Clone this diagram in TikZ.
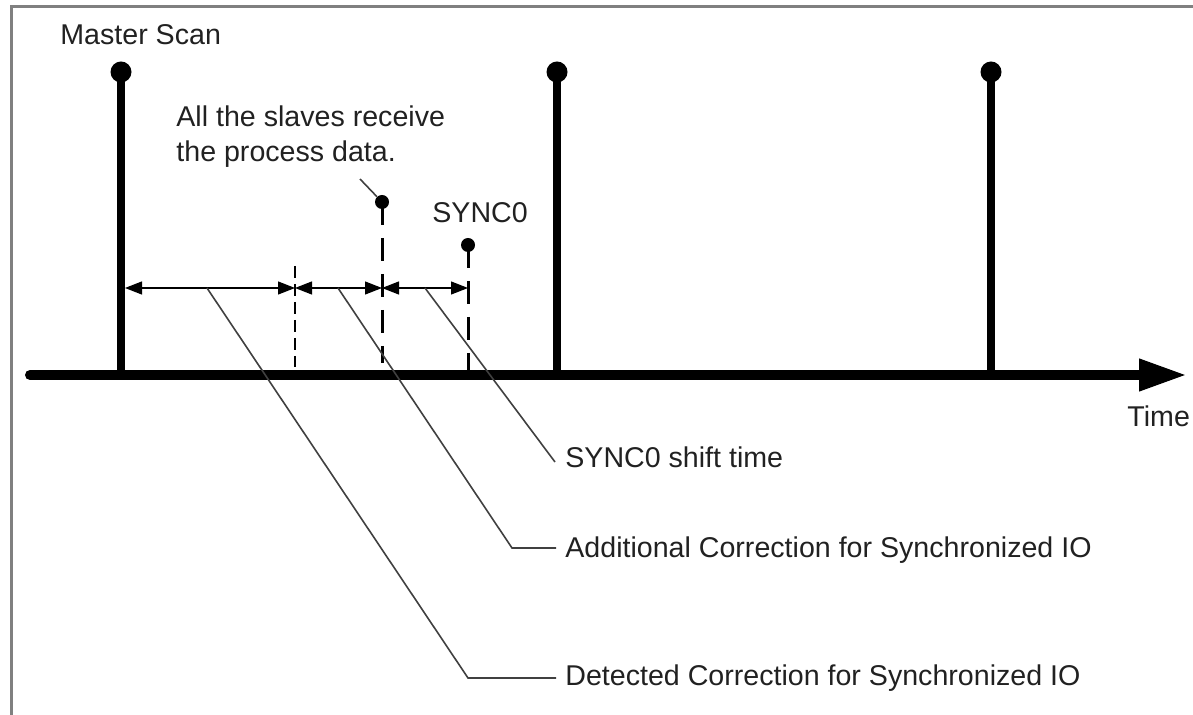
\documentclass[tikz,border=0pt]{standalone}
\usepackage{fontspec}
\setmainfont{Liberation Sans}
\usetikzlibrary{arrows.meta}
\begin{document}
\begin{tikzpicture}[x=0.5pt,y=-0.5pt,
  txt/.style={inner sep=0pt, font=\fontsize{14.3}{17.5}\selectfont, text=black!87},
  pulse/.style={line width=3.8pt},
  bigdot/.style={circle, fill=black, inner sep=0pt, minimum size=10.5pt},
  smalldot/.style={circle, fill=black, inner sep=0pt, minimum size=7pt},
  syncdash/.style={line width=1.5pt, dash pattern=on 11.5pt off 6.5pt},
  thindash/.style={line width=1pt, dash pattern=on 6pt off 3pt},
  dimline/.style={line width=0.6pt, {Triangle[length=8.5pt,width=6.5pt]}-{Triangle[length=8.5pt,width=6.5pt]}},
  leader/.style={line width=0.8pt, draw=black!75},
  frame/.style={line width=1.5pt, draw=black!50},
]
\useasboundingbox (0,0) rectangle (1193,715);
% frame (top and left edges visible)
\coordinate (f0) at (11.5,6.5);
\coordinate (f1) at (1200,6.5);
\coordinate (f2) at (11.5,720);
\draw[frame] (f1) -- (f0) -- (f2);

% time axis
\coordinate (a0) at (30,375);
\coordinate (a1) at (1187,375);
\draw[line width=5pt, line cap=round, -{Triangle[length=24pt,width=15pt]}] (a0) -- (a1);
\node[txt, anchor=base west] (time) at (1127,427) {Time};

% master scan pulses
\node[txt, anchor=base west] (ms) at (60,45) {Master Scan};
\node[bigdot] (m1) at (121,72) {};
\node[bigdot] (m2) at (557,72) {};
\node[bigdot] (m3) at (991,72) {};
\draw[pulse] (m1.center) -- (m1.center |- a0);
\draw[pulse] (m2.center) -- (m2.center |- a0);
\draw[pulse] (m3.center) -- (m3.center |- a0);

% slaves receive marker
\node[txt, anchor=north west, align=left] (slv) at (176,105) {All the slaves receive\\the process data.};
\node[smalldot] (s1) at (382,202) {};
\coordinate (s1b) at (382,363);
\draw[syncdash] (s1.center) -- (s1b);
\coordinate (ls) at (360,179);
\draw[leader] (ls) -- (s1);

% SYNC0 marker
\node[txt, anchor=base west] (sync) at (432,223) {SYNC0};
\node[smalldot] (s2) at (468,245) {};
\draw[syncdash] (s2.center) -- (s2.center |- a0);

% thin dashed separator
\coordinate (v1t) at (295,266);
\coordinate (v1b) at (295,367);
\draw[thindash] (v1t) -- (v1b);

% dimension arrows
\coordinate (d0) at (125,288);
\coordinate (d1) at (295,288);
\coordinate (d2) at (382,288);
\coordinate (d3) at (468,288);
\draw[dimline] (d0) -- (d1);
\draw[dimline] (d1) -- (d2);
\draw[dimline] (d2) -- (d3);

% leaders and labels
\node[txt, anchor=base west] (t1) at (565,685) {Detected Correction for Synchronized IO};
\node[txt, anchor=base west] (t2) at (565,557) {Additional Correction for Synchronized IO};
\node[txt, anchor=base west] (t3) at (565,468) {SYNC0 shift time};
\coordinate (l1a) at (207,288);
\coordinate (l1b) at (468,678);
\coordinate (l1c) at (556,678);
\coordinate (l2a) at (338,288);
\coordinate (l2b) at (512,548);
\coordinate (l2c) at (556,548);
\coordinate (l3a) at (425,288);
\coordinate (l3b) at (555,462);
\draw[leader] (l1a) -- (l1b) -- (l1c);
\draw[leader] (l2a) -- (l2b) -- (l2c);
\draw[leader] (l3a) -- (l3b);
\end{tikzpicture}
\end{document}
